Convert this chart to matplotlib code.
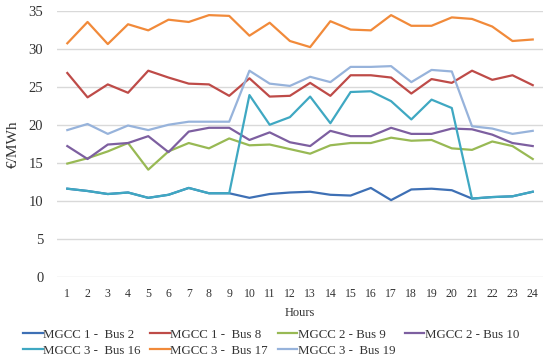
import matplotlib
matplotlib.use('Agg')
import matplotlib.pyplot as plt

hours = list(range(1, 25))

bus2 = [11.6, 11.3, 10.9, 11.1, 10.4, 10.8, 11.7, 11.0, 11.0, 10.4, 10.9, 11.1,
        11.2, 10.8, 10.7, 11.7, 10.1, 11.5, 11.6, 11.4, 10.3, 10.5, 10.6, 11.2]
bus8 = [26.8, 23.6, 25.3, 24.2, 27.1, 26.2, 25.4, 25.3, 23.8, 26.1, 23.7, 23.8,
        25.5, 23.8, 26.5, 26.5, 26.2, 24.1, 26.0, 25.5, 27.1, 25.9, 26.5, 25.2]
bus9 = [14.9, 15.6, 16.5, 17.6, 14.1, 16.5, 17.6, 16.9, 18.2, 17.3, 17.4, 16.8,
        16.2, 17.3, 17.6, 17.6, 18.3, 17.9, 18.0, 16.9, 16.7, 17.8, 17.2, 15.5]
bus10 = [17.2, 15.5, 17.4, 17.6, 18.5, 16.4, 19.1, 19.6, 19.6, 18.0, 19.0, 17.7,
         17.2, 19.2, 18.5, 18.5, 19.6, 18.8, 18.8, 19.5, 19.4, 18.7, 17.6, 17.2]
bus16 = [11.6, 11.3, 10.9, 11.1, 10.4, 10.8, 11.7, 11.0, 11.0, 23.9, 20.0, 21.0,
         23.7, 20.2, 24.3, 24.4, 23.1, 20.7, 23.3, 22.2, 10.3, 10.5, 10.6, 11.2]
bus17 = [30.7, 33.5, 30.6, 33.2, 32.4, 33.8, 33.5, 34.4, 34.3, 31.7, 33.4, 31.0,
         30.2, 33.6, 32.5, 32.4, 34.4, 33.0, 33.0, 34.1, 33.9, 32.9, 31.0, 31.2]
bus19 = [19.3, 20.1, 18.8, 19.9, 19.3, 20.0, 20.4, 20.4, 20.4, 27.1, 25.4, 25.1,
         26.3, 25.6, 27.6, 27.6, 27.7, 25.6, 27.2, 27.0, 19.8, 19.5, 18.8, 19.2]

series = [
    ('MGCC 1 -  Bus 2', bus2, '#3E70B5'),
    ('MGCC 1 -  Bus 8', bus8, '#BE4B48'),
    ('MGCC 2 - Bus 9', bus9, '#98B954'),
    ('MGCC 2 - Bus 10', bus10, '#7D5FA0'),
    ('MGCC 3 -  Bus 16', bus16, '#3FA8C2'),
    ('MGCC 3 -  Bus 17', bus17, '#F18A3A'),
    ('MGCC 3 -  Bus 19', bus19, '#97B3DB'),
]

plt.rcParams['font.family'] = ['Liberation Serif', 'DejaVu Serif']
txt = '#333333'

fig = plt.figure(figsize=(5.5, 3.64), dpi=100)
ax = fig.add_axes([0.104, 0.239, 0.883, 0.732])

lines = []
for name, vals, col in series:
    ln, = ax.plot(hours, vals, color=col, lw=1.6, label=name)
    lines.append(ln)

ax.set_xlim(0.5, 24.5)
ax.set_ylim(0, 35)
ax.set_xticks(hours)
ax.set_yticks(range(0, 36, 5))
ax.tick_params(axis='x', length=0, labelsize=8.5, colors=txt, pad=8)
ax.tick_params(axis='y', length=0, labelsize=10.5, colors=txt, pad=10)
ax.grid(axis='y', color='#D9D9D9', lw=1)
ax.set_axisbelow(True)
for s in ax.spines.values():
    s.set_visible(False)

ax.set_xlabel('Hours', fontsize=9, color=txt, labelpad=5)
ax.set_ylabel('€/MWh', fontsize=11, color=txt, labelpad=6)

# row-major legend order
order = [0, 4, 1, 5, 2, 6, 3]
fig.legend([lines[i] for i in order], [series[i][0] for i in order],
           loc='lower left', bbox_to_anchor=(0.021, -0.012), ncol=4, frameon=False,
           fontsize=9.3, handlelength=1.5, handletextpad=0.05, columnspacing=0.75,
           labelspacing=0.3, labelcolor=txt)

fig.savefig('out.png', dpi=100)
